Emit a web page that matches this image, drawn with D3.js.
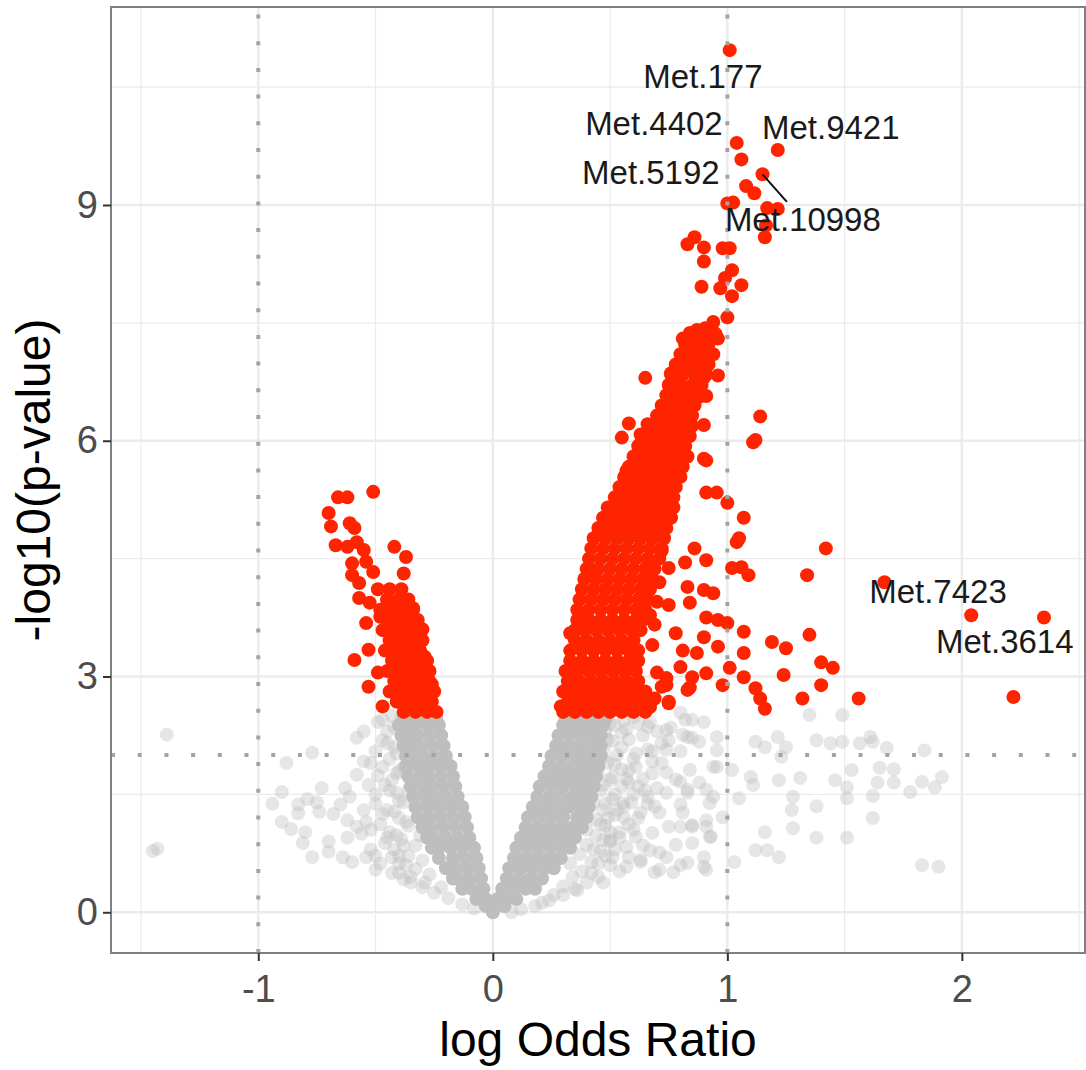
<!DOCTYPE html>
<html><head><meta charset="utf-8">
<script src="https://cdn.jsdelivr.net/npm/d3@7"></script>
<style>body{margin:0;background:#fff}</style>
</head><body><svg id="c" width="1086" height="1070"></svg>
<script>
// ---------- axes / reference lines ----------
const xMajorTicks = [-1, 0, 1, 2];
const xMinorTicks = [-1.5, -0.5, 0.5, 1.5, 2.5];
const yMajorTicks = [0, 3, 6, 9];
const yMinorTicks = [1.5, 4.5, 7.5, 10.5];
const xTickLabels = ["-1", "0", "1", "2"];
const yTickLabels = ["0", "3", "6", "9"];
const vRefLines = [-1, 1];
const hRefLines = [2];
const xTitle = "log Odds Ratio";
const yTitle = "-log10(p-value)";

// ---------- non-significant (grey) points ----------
// dense core: rows of [-log10 p, [log OR ...]]
const nsCoreRows = [
  [0.00, [0.00]],
  [0.08, [-0.03, 0.01, 0.05]],
  [0.17, [-0.07, -0.03, 0.02, 0.06, 0.10]],
  [0.30, [-0.13, -0.09, -0.04, 0.04, 0.09, 0.14, 0.18]],
  [0.43, [-0.17, -0.15, -0.10, -0.05, 0.06, 0.11, 0.16, 0.21]],
  [0.56, [-0.20, -0.16, -0.11, -0.06, 0.07, 0.12, 0.17, 0.22, 0.26]],
  [0.69, [-0.23, -0.17, -0.12, -0.07, 0.09, 0.14, 0.19, 0.24, 0.29]],
  [0.82, [-0.26, -0.23, -0.18, -0.13, -0.08, 0.10, 0.15, 0.20, 0.25, 0.30, 0.33]],
  [0.95, [-0.28, -0.25, -0.20, -0.15, -0.10, 0.12, 0.17, 0.22, 0.27, 0.32, 0.35]],
  [1.08, [-0.30, -0.26, -0.21, -0.16, -0.11, 0.14, 0.19, 0.24, 0.29, 0.34, 0.38]],
  [1.21, [-0.32, -0.27, -0.22, -0.17, -0.12, 0.15, 0.20, 0.25, 0.30, 0.36, 0.40]],
  [1.34, [-0.33, -0.28, -0.23, -0.18, -0.13, 0.17, 0.22, 0.27, 0.32, 0.37, 0.41]],
  [1.47, [-0.34, -0.29, -0.25, -0.20, -0.15, 0.19, 0.24, 0.29, 0.34, 0.38, 0.42]],
  [1.60, [-0.35, -0.30, -0.26, -0.21, -0.16, 0.20, 0.25, 0.30, 0.35, 0.39, 0.43]],
  [1.73, [-0.36, -0.31, -0.27, -0.22, -0.17, 0.22, 0.27, 0.32, 0.36, 0.40, 0.44]],
  [1.86, [-0.37, -0.32, -0.28, -0.23, -0.18, 0.24, 0.29, 0.34, 0.38, 0.41, 0.45]],
  [1.99, [-0.37, -0.35, -0.30, -0.25, -0.20, 0.25, 0.30, 0.35, 0.39, 0.42, 0.46]],
  [2.12, [-0.38, -0.35, -0.31, -0.26, -0.21, 0.27, 0.32, 0.37, 0.42, 0.46]],
  [2.25, [-0.39, -0.36, -0.32, -0.27, -0.22, 0.28, 0.33, 0.38, 0.42, 0.46]],
  [2.38, [-0.40, -0.37, -0.33, -0.28, -0.23, 0.30, 0.35, 0.40, 0.43, 0.47]],
  [2.46, [-0.38, -0.34, -0.29, -0.24, 0.31, 0.36, 0.41, 0.45, 0.48]]
];
// scattered grey points [log OR, -log10 p]
const nsScatter = [
  [-1.39,2.26],[-1.43,0.81],[-1.45,0.78],[-0.77,2.03],[-0.88,1.90],[-0.58,2.22],[-0.49,2.42],[-0.47,2.19],
  [-0.55,1.92],[-0.58,1.75],[-0.49,1.74],[-0.90,1.53],[-0.94,1.38],[-0.73,1.58],[-0.63,1.58],[-0.61,1.47],
  [-0.83,1.37],[-0.83,1.26],[-0.79,1.44],[-0.75,1.40],[-0.74,1.28],[-0.90,1.15],[-0.86,1.06],[-0.80,1.02],
  [-0.81,0.88],[-0.77,0.70],[-0.70,0.77],[-0.64,0.70],[-0.60,0.64],[-0.65,1.37],[-0.62,1.17],[-0.58,1.09],
  [-0.54,1.15],[-0.50,1.38],[-0.54,0.70],[-0.50,0.54],
  [-0.45,2.30],[-0.42,2.10],[-0.44,1.95],[-0.40,1.80],[-0.46,1.62],[-0.41,1.52],[-0.38,1.40],[-0.45,1.30],
  [-0.40,1.20],[-0.36,1.10],[-0.44,1.02],[-0.39,0.93],[-0.33,0.85],[-0.42,0.80],[-0.36,0.72],[-0.30,0.66],
  [-0.40,0.62],[-0.33,0.55],[-0.27,0.48],[-0.35,0.45],[-0.29,0.38],[-0.22,0.32],[-0.46,0.88],[-0.48,1.12],
  [-0.50,1.50],[-0.52,1.90],[-0.47,2.45],[-0.43,2.50],[-0.48,0.62],[-0.43,0.50],[-0.38,0.42],[-0.56,1.00],
  [-0.52,0.80],[-0.62,0.95],[-0.68,1.25],[-0.70,0.90],[-0.41,1.77],[-0.37,2.00],[-0.34,1.62],[-0.31,0.98],
  [-0.37,0.60],[-0.40,0.72],[-0.38,0.85],[-0.41,0.98],[-0.37,1.15],[-0.42,1.28],[-0.40,1.42],[-0.36,1.55],
  [-0.43,1.68],[-0.38,1.85],[-0.41,2.02],[-0.38,2.20],[-0.42,2.35],[-0.39,2.48],[-0.45,2.15],[-0.47,1.85],
  [-0.44,1.55],[-0.47,1.25],[-0.45,0.95],[-0.43,0.70],[-0.30,0.32],[-0.25,0.25],[-0.19,0.18],[-0.13,0.10],
  [-0.08,0.05],[-0.35,0.38],[-0.40,0.50],[-0.50,0.72],[-0.52,1.05],[-0.55,1.30],[-0.53,1.62],[-0.50,2.05],
  [-0.55,2.30],
  [0.30,0.33],[0.34,0.45],[0.38,0.52],[0.33,0.62],[0.42,0.64],[0.37,0.74],[0.46,0.78],[0.40,0.86],
  [0.50,0.90],[0.44,0.97],[0.54,1.02],[0.40,1.05],[0.48,1.10],[0.58,1.12],[0.44,1.18],[0.52,1.24],
  [0.62,1.20],[0.47,1.30],[0.56,1.35],[0.43,1.40],[0.66,1.38],[0.51,1.44],[0.60,1.50],[0.46,1.55],
  [0.55,1.60],[0.70,1.58],[0.50,1.68],[0.64,1.70],[0.45,1.76],[0.58,1.80],[0.74,1.78],[0.52,1.88],
  [0.68,1.92],[0.47,1.97],[0.61,2.02],[0.80,2.05],[0.55,2.10],[0.72,2.15],[0.49,2.20],[0.64,2.25],
  [0.85,2.22],[0.57,2.33],[0.76,2.35],[0.50,2.40],[0.67,2.42],[0.60,2.48],[0.82,2.45],[0.46,2.47],
  [0.40,2.35],[0.35,0.30],[0.26,0.22],[0.21,0.12],
  [0.42,0.50],[0.45,0.62],[0.48,0.72],[0.43,0.80],[0.47,0.92],[0.50,1.02],[0.46,1.12],[0.49,1.20],
  [0.53,1.30],[0.48,1.38],[0.52,1.50],[0.47,1.62],[0.51,1.72],[0.55,1.82],[0.49,1.90],[0.53,2.00],
  [0.47,2.08],[0.51,2.18],[0.55,2.28],[0.48,2.30],[0.52,2.38],[0.56,2.44],[0.62,2.40],[0.58,2.20],
  [0.60,1.95],[0.57,1.70],[0.62,1.60],[0.59,1.40],[0.56,1.20],[0.54,0.95],[0.52,0.80],[0.50,0.60],
  [0.45,0.45],[0.40,0.38],[0.36,0.28],[0.30,0.22],[0.24,0.15],[0.18,0.08],[0.12,0.04],[0.08,0.00],
  [0.70,2.30],[0.68,2.05],[0.72,1.90],[0.65,1.55],[0.69,1.35],[0.60,1.05],[0.64,0.85],[0.58,0.70],
  [0.54,0.52],[0.47,0.38],
  [0.66,2.36],[0.74,2.32],[0.83,2.23],[0.74,2.07],[0.66,2.07],[0.61,1.85],[0.68,1.77],[0.78,1.69],
  [0.88,1.65],[0.94,1.85],[0.94,1.47],[0.83,1.52],[0.74,1.52],[0.66,1.47],[0.58,1.65],[0.555,1.39],
  [0.63,1.27],[0.71,1.27],[0.81,1.27],[0.91,1.17],[0.93,0.96],[0.85,1.09],[0.75,1.09],[0.68,1.01],
  [0.61,0.96],[0.57,0.83],[0.67,0.79],[0.74,0.70],[0.83,0.63],[0.90,0.58],[0.71,0.54],[0.63,0.67],
  [0.57,0.58],[0.51,0.70],[0.50,0.92],
  [1.35,2.51],[1.49,2.51],[1.12,2.17],[1.16,2.10],[1.215,2.23],[1.25,2.10],[1.23,1.98],[1.38,2.19],
  [1.44,2.15],[1.49,2.17],[1.565,2.15],[1.61,2.23],[1.62,2.17],[1.68,2.09],[1.84,2.06],[1.53,1.81],
  [1.65,1.84],[1.71,1.82],[1.31,1.71],[1.22,1.68],[1.11,1.62],[1.46,1.68],[1.51,1.59],[1.64,1.65],
  [1.71,1.65],[1.83,1.66],[1.885,1.59],[1.915,1.72],[1.78,1.53],[1.28,1.47],[1.05,1.45],[1.38,1.35],
  [1.51,1.45],[1.62,1.48],[1.275,1.30],[1.62,1.20],[1.28,1.07],[1.16,1.02],[1.17,0.79],[1.12,0.79],
  [1.22,0.70],[1.38,0.95],[1.51,0.95],[1.03,0.64],[1.83,0.60],[1.90,0.58],[1.10,1.72],[1.02,1.81],
  [0.80,2.54],[0.85,2.45],[0.90,2.42],[0.955,2.23],[0.88,2.17],[0.81,2.26],[0.75,2.19],[0.955,2.06],
  [0.955,1.85],[0.84,1.81],[0.80,1.66],[0.83,1.56],[0.91,1.56],[0.80,1.37],[0.925,1.39],[0.98,1.21],
  [0.91,1.09],[0.85,1.11],[0.80,1.09],[0.925,0.96],[0.85,0.88],[0.78,0.86],[0.71,0.76],[0.80,0.60],
  [0.90,0.70],[0.91,0.54],[0.77,0.51],[0.69,0.51],[0.63,0.64]
];

// ---------- significant (red) points ----------
const sigRightRows = [
  [2.55, [0.30,0.35,0.40,0.45,0.50,0.55,0.60,0.65]],
  [2.68, [0.32,0.37,0.42,0.47,0.52,0.57,0.62,0.66]],
  [2.81, [0.30,0.35,0.40,0.45,0.50,0.55,0.60,0.65]],
  [2.94, [0.32,0.37,0.42,0.47,0.52,0.57,0.62]],
  [3.07, [0.31,0.36,0.41,0.46,0.51,0.56,0.61]],
  [3.20, [0.33,0.38,0.43,0.48,0.53,0.58,0.62]],
  [3.33, [0.33,0.38,0.43,0.48,0.53,0.58,0.62]],
  [3.46, [0.35,0.40,0.45,0.50,0.55,0.60]],
  [3.59, [0.35,0.39,0.44,0.49,0.54,0.59,0.63]],
  [3.72, [0.36,0.41,0.46,0.51,0.56,0.61,0.64]],
  [3.85, [0.36,0.41,0.46,0.51,0.56,0.61,0.65]],
  [3.98, [0.37,0.42,0.47,0.52,0.57,0.62,0.66]],
  [4.11, [0.38,0.43,0.48,0.53,0.58,0.63,0.67]],
  [4.24, [0.39,0.44,0.49,0.54,0.59,0.64,0.68]],
  [4.37, [0.40,0.45,0.50,0.55,0.60,0.65,0.69]],
  [4.50, [0.41,0.46,0.51,0.56,0.61,0.66,0.71]],
  [4.63, [0.42,0.47,0.52,0.57,0.62,0.67,0.72]],
  [4.76, [0.43,0.48,0.53,0.58,0.63,0.68,0.73]],
  [4.89, [0.45,0.50,0.55,0.60,0.65,0.70,0.74]],
  [5.02, [0.47,0.52,0.57,0.62,0.67,0.72,0.76]],
  [5.15, [0.49,0.54,0.59,0.64,0.69,0.74,0.77]],
  [5.28, [0.52,0.57,0.62,0.67,0.72,0.77]],
  [5.41, [0.54,0.59,0.64,0.69,0.74,0.78]],
  [5.54, [0.56,0.61,0.66,0.71,0.76,0.80]],
  [5.67, [0.58,0.63,0.68,0.73,0.78,0.81]],
  [5.80, [0.60,0.65,0.70,0.75,0.80,0.83]],
  [5.93, [0.62,0.67,0.72,0.77,0.82]],
  [6.06, [0.64,0.69,0.74,0.79,0.84]],
  [6.19, [0.67,0.72,0.77,0.82,0.85]],
  [6.32, [0.70,0.75,0.80,0.85]],
  [6.45, [0.72,0.77,0.82,0.86]],
  [6.58, [0.74,0.79,0.84,0.88]],
  [6.71, [0.75,0.80,0.85,0.89]],
  [6.84, [0.76,0.81,0.86,0.91]],
  [6.97, [0.78,0.83,0.88,0.92]],
  [7.10, [0.80,0.85,0.90,0.94]],
  [7.23, [0.82,0.87,0.92]],
  [7.36, [0.85,0.90,0.95]]
];
const sigLeftRows = [
  [2.55, [-0.38,-0.33,-0.28,-0.24]],
  [2.68, [-0.41,-0.36,-0.31,-0.26]],
  [2.81, [-0.44,-0.39,-0.34,-0.29,-0.25]],
  [2.94, [-0.42,-0.37,-0.32,-0.27]],
  [3.07, [-0.45,-0.40,-0.35,-0.30,-0.27]],
  [3.20, [-0.43,-0.38,-0.33,-0.28]],
  [3.33, [-0.46,-0.41,-0.36,-0.31]],
  [3.46, [-0.44,-0.39,-0.34,-0.30]],
  [3.59, [-0.47,-0.42,-0.37,-0.32]],
  [3.72, [-0.45,-0.40,-0.35,-0.32]],
  [3.85, [-0.48,-0.43,-0.38,-0.34]],
  [3.98, [-0.45,-0.40,-0.36]],
  [4.11, [-0.49,-0.44,-0.39]]
];
const sigScatter = [
  [1.01,10.97],[1.04,9.79],[1.215,9.70],[1.06,9.58],[1.15,9.39],[1.08,9.24],[1.115,9.15],[1.00,9.02],
  [1.025,9.03],[1.17,8.96],[1.215,8.95],[1.165,8.74],[1.16,8.59],[0.86,8.59],[0.83,8.50],[0.90,8.46],
  [0.90,8.28],[0.98,8.45],[1.01,8.45],[1.02,8.17],[0.99,8.07],[0.89,7.96],[0.97,7.94],[1.06,7.98],
  [1.02,7.84],[1.00,7.57],[0.94,7.51],[0.905,7.43],[0.87,7.41],[0.84,7.37],[0.81,7.30],[0.96,7.30],
  [0.91,7.28],[0.86,7.18],[0.83,7.12],
  [0.91,5.75],[1.11,5.98],[1.14,6.31],[1.12,6.01],[0.90,6.20],[0.90,5.77],[0.91,5.34],[0.955,5.34],
  [1.00,5.21],[1.07,5.02],[1.05,4.76],[1.04,4.71],[1.42,4.63],[0.86,4.63],[0.82,4.45],[0.91,4.48],
  [1.02,4.38],[1.06,4.39],[1.09,4.29],[1.34,4.29],[0.75,4.38],[0.90,4.10],[0.94,4.06],[0.83,4.14],
  [0.75,3.91],[0.84,3.94],[0.91,3.75],[0.96,3.72],[1.00,3.68],[0.69,3.66],[0.78,3.55],[1.07,3.57],
  [1.19,3.44],[1.25,3.36],[1.35,3.53],[0.90,3.50],[0.96,3.38],[1.07,3.30],[0.81,3.33],[0.87,3.30],
  [0.80,3.12],[0.91,3.04],[1.01,3.11],[1.40,3.18],[1.45,3.11],[0.74,2.98],[0.72,2.87],[0.85,2.99],
  [0.83,2.83],[0.98,2.89],[1.07,2.99],[1.12,2.85],[1.14,2.72],[1.16,2.59],[1.24,3.02],[1.40,2.89],
  [1.32,2.72],[0.75,2.66],[0.33,3.55],[0.67,2.61],[0.74,2.89],[0.75,2.68],[0.84,2.86],[1.56,2.72],
  [2.22,2.74],[1.67,4.20],[2.04,3.78],[2.35,3.75],[0.52,5.12],[0.58,6.22],[0.66,6.21],[0.55,6.04],
  [0.63,5.97],[0.65,6.80],[0.76,6.86],[0.79,6.80],[0.85,6.91],[0.90,6.80],[0.96,6.83],[0.78,6.65],
  [0.83,6.65],[0.91,6.57],[0.88,6.56],[0.70,4.95],[0.68,5.30],[0.72,4.60],[0.70,3.95],
  [0.69,2.72],[0.70,3.05],[0.68,3.40],[0.67,3.78],[0.71,4.20],[0.29,2.62],[0.34,3.02],[0.37,3.80],
  [0.43,4.35],[0.48,4.82],[0.57,5.62],[0.63,6.08],
  [-0.66,5.28],[-0.62,5.28],[-0.51,5.35],[-0.70,5.08],[-0.69,4.91],[-0.61,4.95],[-0.59,4.89],[-0.67,4.67],
  [-0.62,4.65],[-0.58,4.71],[-0.55,4.61],[-0.42,4.65],[-0.37,4.52],[-0.38,4.31],[-0.60,4.44],[-0.54,4.46],
  [-0.51,4.33],[-0.60,4.29],[-0.57,4.19],[-0.57,4.00],[-0.525,3.94],[-0.45,3.97],[-0.38,3.94],[-0.34,3.87],
  [-0.54,3.68],[-0.48,3.76],[-0.40,3.66],[-0.53,3.34],[-0.59,3.21],[-0.53,2.87],
  [-0.47,2.62],[-0.30,3.60],[-0.49,3.05],[-0.29,3.25],[-0.26,2.90]
];

// ---------- labels ----------
const labelNames  = ["Met.177","Met.4402","Met.9421","Met.5192","Met.10998","Met.7423","Met.3614"];
const labelPointX = [1.01, 1.04, 1.215, 1.06, 1.15, 1.67, 2.35];
const labelPointY = [10.97, 9.79, 9.70, 9.58, 9.39, 4.20, 3.75];
const labelTextX  = [0.896, 0.687, 1.441, 0.674, 1.322, 1.898, 2.183];
const labelTextY  = [10.49, 9.89, 9.84, 9.27, 8.67, 3.94, 3.30];
const labelSegEndX = [null, null, null, null, 1.254, null, null];
const labelSegEndY = [null, null, null, null, 9.04, null, null];

// ---------- drawing ----------
const W = 1086, H = 1070;
const P = {left: 111, right: 1085, top: 7, bottom: 953};
const FONT = "'Liberation Sans', Arial, Helvetica, sans-serif";
const svg = d3.select("#c");
const x = d3.scaleLinear().domain([-1.628, 2.525]).range([P.left, P.right]);
const y = d3.scaleLinear().domain([-0.518, 11.519]).range([P.bottom, P.top]);

svg.append("rect").attr("width", W).attr("height", H).attr("fill", "#fff");
svg.append("defs").append("clipPath").attr("id", "clip")
  .append("rect").attr("x", P.left).attr("y", P.top)
  .attr("width", P.right - P.left).attr("height", P.bottom - P.top);

const grid = svg.append("g");
grid.selectAll(".xm").data(xMinorTicks).join("line")
  .attr("x1", d => x(d)).attr("x2", d => x(d)).attr("y1", P.top).attr("y2", P.bottom)
  .attr("stroke", "#ebebeb").attr("stroke-width", 1.2);
grid.selectAll(".ym").data(yMinorTicks).join("line")
  .attr("y1", d => y(d)).attr("y2", d => y(d)).attr("x1", P.left).attr("x2", P.right)
  .attr("stroke", "#ebebeb").attr("stroke-width", 1.2);
grid.selectAll(".xM").data(xMajorTicks).join("line")
  .attr("x1", d => x(d)).attr("x2", d => x(d)).attr("y1", P.top).attr("y2", P.bottom)
  .attr("stroke", "#ebebeb").attr("stroke-width", 2.4);
grid.selectAll(".yM").data(yMajorTicks).join("line")
  .attr("y1", d => y(d)).attr("y2", d => y(d)).attr("x1", P.left).attr("x2", P.right)
  .attr("stroke", "#ebebeb").attr("stroke-width", 2.4);

const plot = svg.append("g").attr("clip-path", "url(#clip)");
const rows2pts = rows => rows.flatMap(([yy, xs]) => xs.map(xx => [xx, yy]));
const R = 7;

plot.append("g").selectAll("circle").data(nsScatter).join("circle")
  .attr("cx", d => x(d[0])).attr("cy", d => y(d[1])).attr("r", R)
  .attr("fill", "#bebebe").attr("fill-opacity", 0.38);
plot.append("g").selectAll("circle").data(rows2pts(nsCoreRows)).join("circle")
  .attr("cx", d => x(d[0])).attr("cy", d => y(d[1])).attr("r", R)
  .attr("fill", "#bebebe");
const sigAll = rows2pts(sigRightRows).concat(rows2pts(sigLeftRows), sigScatter);
plot.append("g").selectAll("circle").data(sigAll).join("circle")
  .attr("cx", d => x(d[0])).attr("cy", d => y(d[1])).attr("r", R)
  .attr("fill", "#ff2400");

// dotted reference lines
plot.selectAll(".vref").data(vRefLines).join("line")
  .attr("x1", d => x(d)).attr("x2", d => x(d)).attr("y1", P.bottom).attr("y2", P.top)
  .attr("stroke", "#a3a3a3").attr("stroke-width", 4).attr("stroke-dasharray", "4 22.7");
plot.selectAll(".href").data(hRefLines).join("line")
  .attr("y1", d => y(d)).attr("y2", d => y(d)).attr("x1", P.left).attr("x2", P.right)
  .attr("stroke", "#a3a3a3").attr("stroke-width", 4).attr("stroke-dasharray", "4 22.7");

// labels
const lab = svg.append("g");
labelNames.forEach((n, i) => {
  if (labelSegEndX[i] !== null) {
    lab.append("line")
      .attr("x1", x(labelPointX[i])).attr("y1", y(labelPointY[i]))
      .attr("x2", x(labelSegEndX[i])).attr("y2", y(labelSegEndY[i]))
      .attr("stroke", "#111").attr("stroke-width", 2);
  }
  lab.append("text").attr("x", x(labelTextX[i])).attr("y", y(labelTextY[i]))
    .attr("text-anchor", "middle").attr("font-family", FONT).attr("font-size", 33)
    .attr("fill", "#1a1a1a").text(n);
});

// panel border
svg.append("rect").attr("x", P.left).attr("y", P.top)
  .attr("width", P.right - P.left).attr("height", P.bottom - P.top)
  .attr("fill", "none").attr("stroke", "#808080").attr("stroke-width", 2);

// axes
const xAxis = svg.append("g").attr("transform", `translate(0,${P.bottom})`)
  .call(d3.axisBottom(x).tickValues(xMajorTicks).tickFormat((d, i) => xTickLabels[i])
    .tickSize(8).tickPadding(14));
const yAxis = svg.append("g").attr("transform", `translate(${P.left},0)`)
  .call(d3.axisLeft(y).tickValues(yMajorTicks).tickFormat((d, i) => yTickLabels[i])
    .tickSize(8).tickPadding(5));
[xAxis, yAxis].forEach(a => {
  a.select(".domain").remove();
  a.selectAll(".tick line").attr("stroke", "#333").attr("stroke-width", 2);
  a.selectAll(".tick text").attr("font-family", FONT).attr("font-size", 38).attr("fill", "#4d4d4d");
});

svg.append("text").attr("x", (P.left + P.right) / 2).attr("y", 1056)
  .attr("text-anchor", "middle").attr("font-family", FONT).attr("font-size", 48)
  .attr("fill", "#000").text(xTitle);
svg.append("text").attr("transform", `translate(50,${(P.top + P.bottom) / 2}) rotate(-90)`)
  .attr("text-anchor", "middle").attr("font-family", FONT).attr("font-size", 48)
  .attr("fill", "#000").text(yTitle);
</script>
</body></html>
